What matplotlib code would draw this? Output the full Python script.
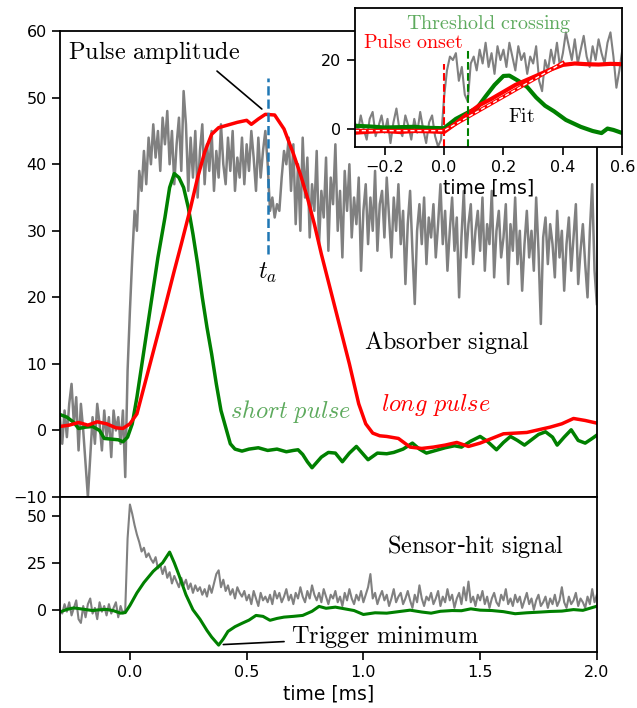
import numpy as np
import matplotlib
matplotlib.use("Agg")
import matplotlib.pyplot as plt

plt.rcParams['mathtext.fontset'] = 'cm'
plt.rcParams['font.size'] = 11.5

# --- absorber signal (main panel), sampled every 0.01 ms ---
t_grid = np.round(np.arange(-0.30, 2.001, 0.01), 2)
absorber_raw = [
    2, -2, 3, -1, 4, 7, 1, 5, -3, 4,
    0, -5, -10, -4, 2, -2, 4, 1, -3, 3,
    -1, 2, -4, 3, 0, 2, -2, 3, -7, 9,
    18, 26, 33, 30, 39, 36, 42, 37, 44, 40,
    46, 41, 45, 39, 47, 43, 48, 40, 45, 37,
    43, 47, 39, 51, 46, 36, 44, 38, 45, 35,
    42, 46, 37, 43, 39, 45, 36, 42, 38, 46,
    40, 37, 44, 39, 45, 36, 41, 38, 44, 37,
    43, 39, 45, 41, 36, 44, 38, 42, 45, 40,
    33, 35, 32, 34, 33, 38, 42, 40, 44, 36,
    43, 31, 40, 30, 44, 35, 41, 29, 37, 33,
    42, 28, 36, 32, 41, 27, 38, 34, 43, 30,
    36, 26, 39, 33, 40, 29, 35, 31, 38, 24,
    33, 37, 28, 35, 30, 39, 27, 34, 36, 29,
    38, 32, 26, 35, 30, 37, 28, 33, 22, 31,
    36, 27, 19, 30, 34, 28, 35, 25, 32, 29,
    34, 26, 31, 37, 28, 33, 24, 30, 35, 27,
    32, 20, 29, 36, 26, 31, 34, 25, 30, 33,
    27, 35, 24, 31, 28, 36, 23, 30, 33, 26,
    29, 34, 22, 31, 27, 35, 25, 30, 21, 28,
    33, 26, 30, 24, 35, 27, 16, 29, 32, 25,
    31, 28, 23, 33, 26, 30, 21, 28, 32, 24,
    29, 34, 22, 27, 31, 25, 20, 30, 37, 24,
    19]

t_long = [-0.30, -0.26, -0.22, -0.18, -0.14, -0.10, -0.06, -0.03, 0.00, 0.03,
          0.06, 0.09, 0.12, 0.15, 0.19, 0.22, 0.26, 0.29, 0.32, 0.35,
          0.38, 0.42, 0.46, 0.50, 0.52, 0.55, 0.58, 0.62, 0.66, 0.70,
          0.73, 0.76, 0.79, 0.82, 0.86, 0.90, 0.94, 0.98, 1.01, 1.04,
          1.07, 1.10, 1.15, 1.20, 1.25, 1.30, 1.35, 1.40, 1.45, 1.50,
          1.55, 1.60, 1.65, 1.70, 1.75, 1.80, 1.85, 1.90, 1.95, 2.00]
long_pulse = [0.6, 0.8, 1.2, 0.8, 1.3, 1.0, 0.4, 0.3, 1.0, 2.5,
              6.5, 10.5, 14.5, 18.5, 24.0, 28.0, 33.5, 38.0, 41.8, 44.5,
              45.5, 45.9, 46.3, 46.6, 46.0, 46.8, 47.5, 47.4, 45.3, 41.6,
              38.5, 35.0, 31.0, 26.5, 21.0, 15.5, 10.0, 4.0, 1.0, -0.4,
              -0.8, -0.9, -1.2, -2.5, -2.7, -2.5, -2.2, -1.8, -2.4, -1.9,
              -1.2, -0.5, -0.4, -0.3, 0.1, 0.5, 1.0, 1.8, 1.5, 1.1]

t_short = [-0.30, -0.27, -0.24, -0.22, -0.19, -0.16, -0.13, -0.11, -0.08, -0.05,
           -0.03, -0.01, 0.01, 0.03, 0.06, 0.09, 0.12, 0.15, 0.17, 0.19,
           0.21, 0.23, 0.25, 0.27, 0.29, 0.31, 0.33, 0.35, 0.37, 0.39,
           0.41, 0.43, 0.45, 0.48, 0.51, 0.55, 0.59, 0.63, 0.67, 0.70,
           0.72, 0.74, 0.76, 0.78, 0.80, 0.82, 0.85, 0.88, 0.91, 0.94,
           0.97, 1.00, 1.02, 1.06, 1.10, 1.13, 1.17, 1.21, 1.24, 1.27,
           1.31, 1.35, 1.39, 1.42, 1.46, 1.50, 1.53, 1.57, 1.60, 1.63,
           1.66, 1.69, 1.72, 1.75, 1.78, 1.81, 1.83, 1.86, 1.89, 1.92,
           1.95, 1.98, 2.00]
short_pulse = [2.4, 2.0, 1.2, 0.3, 0.5, 0.6, 0.0, -1.2, -1.3, -1.4,
               -1.7, -1.0, 1.0, 5.0, 12.0, 19.0, 26.0, 32.0, 36.5, 38.6,
               38.0, 36.5, 33.5, 29.5, 25.0, 20.0, 15.5, 11.5, 7.0, 3.0,
               0.5, -2.0, -2.8, -3.1, -2.8, -2.6, -3.0, -2.8, -3.2, -3.0,
               -2.9, -3.6, -4.7, -5.6, -4.8, -4.0, -3.3, -3.4, -4.7, -3.4,
               -2.4, -3.6, -4.4, -3.4, -3.5, -3.3, -2.8, -1.9, -2.8, -3.4,
               -3.0, -2.6, -2.3, -2.5, -1.6, -0.9, -1.6, -2.9, -1.8, -0.9,
               -1.5, -2.2, -1.4, -0.6, -0.2, -1.0, -2.2, -1.0, 0.1, -1.5,
               -1.9, -1.2, -0.7]

# --- sensor-hit signal (lower panel) ---
sensor_raw = [
    0, -2, 3, -1, 4, -3, 1, 5, -5, -7,
    2, -4, 3, 6, -2, 1, -5, 4, -1, 2,
    -3, 3, -2, 1, 4, -4, 2, -2, 0, 38,
    56, 51, 45, 40, 36, 31, 33, 28, 30, 27,
    25, 28, 22, 24, 19, 23, 17, 20, 14, 18,
    15, 12, 17, 13, 16, 11, 14, 9, 13, 10,
    12, 8, 11, 7, 13, 9, 14, 19, 21, 12,
    16, 10, 13, 8, 11, 6, 12, 9, 7, 10,
    5, 8, 3, 10, 6, 2, 9, 5, 7, 4,
    8, 3, 10, 6, 9, 4, 7, 11, 5, 8,
    3, 9, 6, 12, 7, 4, 10, 6, 13, 8,
    5, 9, 4, 11, 7, 3, 8, 6, 10, 4,
    7, 2, 9, 5, 11, 6, 3, 8, 5, 10,
    4, 8, 12, 19, 6, 9, 3, 7, 10, 5,
    8, 2, 6, 11, 4, 7, 9, 3, 6, 10,
    5, 1, 8, 4, 13, 6, 2, 7, 5, 9,
    3, 6, 10, 2, 7, 4, 11, 5, 8, 1,
    6, 9, 3, 12, 5, 15, 4, 7, 2, 8,
    5, 10, 3, 7, 1, 6, 9, 4, 2, 8,
    5, 11, 3, 6, 2, 8, 4, 7, 1, 5,
    9, 3, 6, 0, 5, 8, 2, 4, 7, 1,
    6, 3, 8, 2, 5, 12, 4, 1, 7, 3,
    5, 9, 2, 6, 4, 1, 7, 3, 11, 4,
    8]

t_trig = [-0.30, -0.27, -0.24, -0.20, -0.16, -0.13, -0.10, -0.07, -0.04, -0.02,
          0.00, 0.03, 0.06, 0.10, 0.14, 0.17, 0.19, 0.21, 0.24, 0.27,
          0.30, 0.33, 0.35, 0.38, 0.40, 0.42, 0.45, 0.48, 0.51, 0.54,
          0.57, 0.60, 0.63, 0.66, 0.70, 0.74, 0.78, 0.81, 0.84, 0.88,
          0.92, 0.96, 1.00, 1.05, 1.10, 1.15, 1.20, 1.25, 1.29, 1.33,
          1.38, 1.42, 1.46, 1.50, 1.55, 1.60, 1.65, 1.70, 1.76, 1.80,
          1.85, 1.90, 1.94, 1.97, 2.00]
trigger = [-1.2, 0.2, 1.0, 0.3, -0.4, 0.0, 0.2, -0.5, -1.8, -1.5,
           2.3, 9.0, 14.5, 20.5, 25.0, 30.7, 25.0, 18.5, 8.0, 0.0,
           -5.0, -11.0, -14.5, -18.8, -15.5, -11.5, -9.0, -7.2, -5.5, -3.0,
           -3.5, -5.6, -4.6, -3.9, -3.5, -3.0, -0.8, 1.8, 0.8, 1.4,
           0.5, -0.4, -2.5, -1.6, -1.8, -1.0, -0.2, -1.2, -1.8, -0.8,
           -0.4, -0.5, 0.5, -0.2, -0.4, -1.0, -2.1, -1.6, -1.2, -0.9,
           -0.7, 0.1, -0.3, 0.8, 1.9]

# --- inset: pulse onset zoom ---
t_inset = np.round(np.arange(-0.30, 0.601, 0.01), 2)
inset_raw = [
    2, -1, 4, 0, -3, 3, 5, -2, 1, 4,
    -1, 3, -4, 2, 6, 0, -2, 4, 1, -3,
    3, -1, 5, 0, -4, 2, 4, -2, -5, -3,
    9, 17, 21, 20, 22, 14, 18, 10, 8, 19,
    21, 17, 23, 19, 25, 18, 22, 16, 24, 20,
    23, 18, 25, 21, 17, 24, 20, 22, 16, 21,
    19, 24, 14, 11, 20, 17, 23, 19, 25, 18,
    22, 28, 24, 20, 26, 19, 23, 27, 21, 18,
    24, 20, 26, 22, 19, 25, 28, 21, 12, 17,
    23]
t_in_red = [-0.30, -0.25, -0.20, -0.15, -0.10, -0.05, 0.00, 0.04, 0.08, 0.12,
            0.16, 0.20, 0.24, 0.28, 0.32, 0.36, 0.40, 0.44, 0.48, 0.52,
            0.56, 0.60]
inset_red = [-1.0, -0.7, -0.5, -0.8, -0.5, -0.6, -0.8, 1.7, 4.5, 7.0,
             8.8, 10.8, 12.8, 14.3, 15.8, 17.3, 18.6, 19.0, 18.8, 18.7,
             18.9, 18.8]
t_fit = [-0.30, 0.00, 0.40]
fit = [-0.4, -0.4, 19.2]
t_in_green = [-0.30, -0.25, -0.20, -0.15, -0.10, -0.05, 0.00, 0.04, 0.08, 0.11,
              0.14, 0.17, 0.20, 0.22, 0.25, 0.28, 0.31, 0.34, 0.37, 0.41,
              0.46, 0.50, 0.53, 0.55, 0.57, 0.60]
inset_green = [1.0, 0.8, 0.5, 0.6, 0.7, 0.4, 0.3, 3.0, 4.8, 6.0,
               9.5, 12.8, 15.4, 15.5, 14.0, 12.2, 9.2, 6.8, 5.2, 2.7,
               0.7, -0.5, -1.1, 0.2, -0.2, -1.1]
onset_t = 0.0
threshold_t = 0.08
t_amp = 0.59

light_green = '#5daa5d'
big = 17.5

fig = plt.figure(figsize=(6.37, 7.08), dpi=100)
ax = fig.add_axes([0.094, 0.298, 0.843, 0.658])
ax2 = fig.add_axes([0.094, 0.079, 0.843, 0.219], sharex=ax)
axin = fig.add_axes([0.557, 0.793, 0.420, 0.1955])

for a in (ax, ax2, axin):
    for s in a.spines.values():
        s.set_linewidth(1.3)
    a.tick_params(direction='out', length=6, width=1.2, labelsize=11.5)

# main panel
ax.plot(t_grid, absorber_raw, color='gray', lw=1.8)
ax.plot(t_short, short_pulse, color='green', lw=2.5)
ax.plot(t_long, long_pulse, color='red', lw=2.5)
ax.plot([t_amp, t_amp], [26.5, 53], color='#1f77b4', ls='--', lw=1.8)
ax.set_xlim(-0.3, 2.0)
ax.set_ylim(-10, 60)
ax.set_yticks([-10, 0, 10, 20, 30, 40, 50, 60])
ax.tick_params(bottom=False, labelbottom=False)

ax.text(0.105, 56.8, r'$\mathrm{Pulse\ amplitude}$', fontsize=big,
        ha='center', va='center')
ax.annotate('', xy=(0.565, 48.3), xytext=(0.373, 54.0),
            arrowprops=dict(arrowstyle='-', color='black', lw=1.2,
                            shrinkA=0, shrinkB=0))
ax.text(t_amp, 23.7, r'$t_a$', fontsize=big, ha='center', va='center')
ax.text(1.36, 13.2, r'$\mathrm{Absorber\ signal}$', fontsize=big,
        ha='center', va='center')
ax.text(0.69, 2.9, r'$short\ pulse$', fontsize=big, color=light_green,
        ha='center', va='center')
ax.text(1.31, 3.9, r'$long\ pulse$', fontsize=big, color='red',
        ha='center', va='center')

# lower panel
ax2.plot(t_grid, sensor_raw, color='gray', lw=1.5)
ax2.plot(t_trig, trigger, color='green', lw=2.2)
ax2.set_ylim(-22.5, 60)
ax2.set_yticks([0, 25, 50])
ax2.set_xticks([0.0, 0.5, 1.0, 1.5, 2.0])
ax2.set_xlabel('time [ms]', fontsize=13.5, labelpad=3)
ax2.text(1.48, 33.5, r'$\mathrm{Sensor}$-$\mathrm{hit\ signal}$', fontsize=big,
         ha='center', va='center')
ax2.annotate(r'$\mathrm{Trigger\ minimum}$', xy=(0.40, -18.5), xytext=(0.69, -14.3),
             fontsize=big, ha='left', va='center',
             arrowprops=dict(arrowstyle='-', color='black', lw=1.2,
                             shrinkA=3, shrinkB=0))

# inset
axin.plot(t_inset, inset_raw, color='gray', lw=1.5)
axin.plot(t_in_green, inset_green, color='green', lw=3)
axin.plot(t_in_red, inset_red, color='red', lw=3)
axin.plot(t_fit, fit, color='red', lw=2.6)
axin.plot(t_fit, fit, color='white', ls=(0, (3, 2)), lw=1.0)
axin.plot([onset_t, onset_t], [-5, 19], color='red', ls='--', lw=1.5)
axin.plot([threshold_t, threshold_t], [-5, 23], color='green', ls='--', lw=1.5)
axin.set_xlim(-0.3, 0.6)
axin.set_ylim(-5, 35)
axin.set_yticks([0, 20])
axin.set_xticks([-0.2, 0.0, 0.2, 0.4, 0.6])
axin.set_xlabel('time [ms]', fontsize=13.5, labelpad=3)
axin.text(0.15, 30.5, r'$\mathrm{Threshold\ crossing}$', fontsize=14.5,
          color=light_green, ha='center', va='center')
axin.text(-0.105, 25.0, r'$\mathrm{Pulse\ onset}$', fontsize=14.5, color='red',
          ha='center', va='center')
axin.text(0.26, 3.7, r'$\mathrm{Fit}$', fontsize=14, ha='center', va='center')

fig.savefig('out.png', dpi=100)
